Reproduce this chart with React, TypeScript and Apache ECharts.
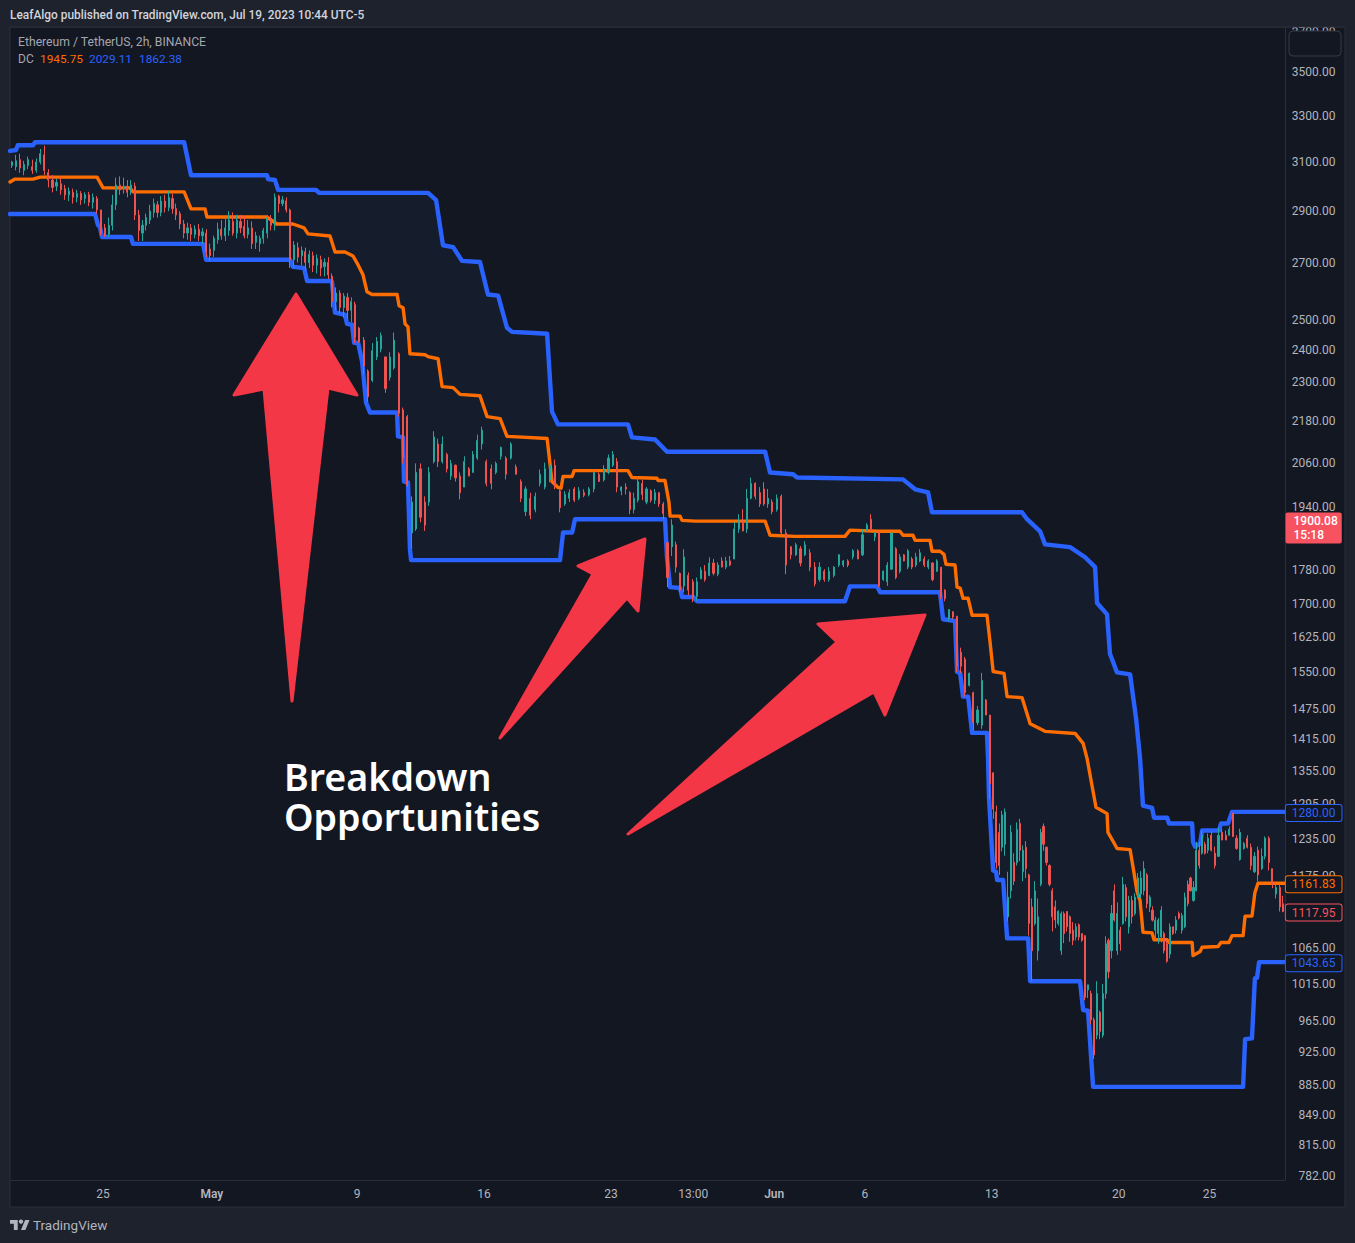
import React, { useEffect, useRef } from "react";
import * as echarts from "echarts";

type C = [number, number, number, number]; // open, close, low, high

// Time is in days after 25 April. One list per stretch between date ticks.
const aprilTail: C[] = [[3080,3095,3070,3100],[3075,3100,3060,3125],[3105,3070,3050,3130],[3060,3085,3040,3100],[3080,3105,3065,3118],[3075,3060,3045,3105],[3060,3095,3050,3110],[3095,3130,3085,3150],[3125,3060,3040,3165],[3050,3020,2990,3065],[3020,2990,2970,3040],[2995,3010,2975,3025],[3005,2980,2960,3030],[2985,2960,2940,3000],[2960,2975,2935,2990],[2970,2950,2925,2985],[2950,2965,2930,2980],[2965,2940,2920,2975],[2945,2960,2925,2970],[2960,2930,2915,2972],[2930,2950,2905,2965],[2945,2900,2885,2955],[2900,2810,2800,2900]];
const apr25ToMay1: C[] = [[2830,2800,2795,2845],[2805,2840,2795,2870],[2840,2920,2820,2960],[2920,3000,2900,3030],[3000,2980,2960,3035],[2985,2995,2965,3030],[2995,2970,2950,3020],[2975,3000,2960,3020],[2995,2880,2860,3010],[2880,2820,2780,2900],[2810,2840,2780,2860],[2840,2870,2820,2885],[2860,2895,2845,2920],[2890,2925,2870,2945],[2920,2890,2870,2935],[2890,2935,2875,2955],[2935,2910,2890,2960],[2910,2950,2895,2975],[2945,2905,2885,2965],[2905,2880,2860,2925],[2885,2845,2825,2895],[2845,2810,2790,2860],[2810,2830,2785,2850],[2830,2805,2780,2845],[2805,2825,2790,2840],[2825,2800,2780,2845],[2800,2815,2770,2830],[2810,2740,2720,2825],[2750,2725,2705,2770]];
const may1ToMay9: C[] = [[2745,2790,2720,2800],[2785,2825,2770,2850],[2825,2800,2785,2860],[2800,2830,2780,2870],[2820,2860,2800,2895],[2855,2810,2800,2890],[2810,2860,2790,2880],[2855,2830,2810,2880],[2835,2800,2790,2875],[2805,2830,2790,2860],[2830,2770,2750,2855],[2775,2800,2750,2815],[2770,2790,2740,2800],[2790,2820,2770,2830],[2810,2870,2790,2880],[2860,2840,2820,2880],[2840,2950,2820,2965],[2955,2925,2890,2960],[2925,2940,2915,2955],[2935,2900,2890,2950],[2900,2710,2680,2905],[2710,2765,2680,2780],[2755,2720,2700,2775],[2725,2745,2690,2760],[2740,2700,2670,2755],[2700,2730,2680,2745],[2725,2690,2665,2740],[2690,2715,2660,2730],[2710,2680,2650,2725],[2685,2700,2650,2715],[2700,2655,2640,2720],[2650,2560,2540,2660],[2560,2590,2530,2610],[2590,2540,2520,2600],[2540,2580,2505,2590],[2575,2530,2500,2590],[2530,2560,2490,2575],[2550,2440,2420,2560]];
const may9ToMay16: C[] = [[2470,2425,2420,2474],[2430,2345,2320,2440],[2330,2250,2235,2335],[2300,2395,2295,2420],[2375,2425,2365,2440],[2400,2445,2390,2455],[2375,2275,2262,2375],[2310,2375,2300,2390],[2340,2430,2334,2455],[2385,2200,2190,2390],[2210,2070,2055,2217],[2190,1995,1990,2195],[1870,1950,1830,1965],[1880,2030,1875,2055],[2040,1910,1897,2055],[1950,1890,1875,1965],[1950,2030,1940,2045],[2060,2130,2055,2147],[2110,2060,2045,2125],[2060,2110,2055,2132],[2080,2040,2030,2085],[2020,2055,2010,2065],[2050,2015,2005,2052],[2020,1975,1957,2030],[1990,2060,1990,2075],[2040,2020,2020,2045],[2030,2080,2030,2090],[2070,2120,2065,2137],[2110,2150,2094,2160]];
const may16ToMay23: C[] = [[2060,2000,1992,2066],[2040,2000,1984,2052],[2030,2055,2025,2060],[2075,2100,2066,2103],[2070,2025,2011,2075],[2070,2110,2066,2115],[2045,2025,2025,2052],[2005,1960,1950,2011],[1925,1985,1913,1992],[1960,1915,1905,1975],[1930,1965,1923,1975],[2000,2025,1992,2038],[1990,2040,1984,2057],[2010,2050,2003,2057],[2050,1995,1984,2066],[1980,1935,1923,1984],[1945,1970,1940,1979],[1960,1975,1950,1984],[1985,1955,1950,1990],[1960,1980,1955,1990],[1975,1968,1963,1984],[1970,1985,1965,1990],[1985,2030,1976,2038],[2025,2005,2005,2030],[2010,2040,2005,2050],[2030,2070,2025,2080]];
const may23ToJun1: C[] = [[2050,2080,2045,2090],[2060,1990,1976,2070],[1980,1990,1968,1992],[1990,1985,1970,2000],[1975,1930,1918,1979],[1930,1960,1920,1975],[1955,2005,1949,2020],[2000,1970,1955,2010],[1950,1985,1944,1990],[1980,1955,1949,1984],[1955,1975,1945,1985],[1975,1945,1937,1976],[1945,1920,1905,1950],[1845,1760,1737,1848],[1835,1890,1812,1905],[1840,1785,1772,1848],[1770,1730,1725,1772],[1740,1810,1725,1829],[1765,1730,1718,1772],[1750,1712,1702,1756],[1715,1750,1705,1760],[1757,1778,1756,1785],[1775,1755,1750,1790],[1765,1795,1763,1809],[1795,1770,1765,1805],[1768,1790,1763,1797],[1800,1785,1785,1809],[1785,1800,1780,1810],[1800,1790,1787,1812],[1805,1880,1804,1897],[1880,1900,1870,1918],[1895,1875,1874,1931],[1880,1960,1870,1985],[1960,2000,1957,2016],[2000,1965,1957,2003],[1975,1945,1937,1990],[1985,1945,1940,2003],[1945,1960,1935,1985],[1950,1925,1918,1957]];
const jun1ToJun6: C[] = [[1930,1960,1925,1970],[1965,1870,1861,1970],[1870,1790,1768,1879],[1835,1815,1804,1837],[1815,1840,1812,1845],[1830,1795,1787,1837],[1815,1840,1812,1849],[1820,1785,1775,1829],[1785,1745,1739,1797],[1755,1785,1750,1797],[1775,1755,1750,1780],[1755,1775,1750,1785],[1765,1785,1760,1787],[1790,1815,1785,1817],[1790,1800,1785,1802],[1800,1790,1785,1804],[1810,1825,1804,1829],[1825,1805,1804,1829],[1815,1865,1812,1879]];
const jun6ToJun13: C[] = [[1875,1890,1875,1895],[1905,1880,1875,1918],[1860,1870,1849,1871],[1870,1740,1737,1874],[1755,1775,1752,1777],[1750,1790,1740,1797],[1780,1870,1778,1874],[1830,1760,1756,1834],[1775,1810,1770,1817],[1815,1800,1799,1817],[1785,1825,1780,1829],[1805,1785,1780,1810],[1790,1810,1785,1820],[1800,1820,1797,1829],[1805,1790,1785,1811],[1785,1800,1780,1804],[1795,1755,1751,1797],[1775,1800,1773,1804],[1785,1715,1709,1785],[1730,1710,1704,1732],[1665,1685,1659,1686],[1680,1668,1663,1681],[1670,1560,1548,1670],[1590,1560,1546,1600],[1575,1505,1497,1580],[1520,1545,1518,1547],[1505,1445,1430,1507],[1445,1470,1440,1478],[1440,1530,1433,1546],[1490,1460,1460,1492],[1460,1330,1303,1460]];
const jun13ToJun20: C[] = [[1350,1285,1268,1350],[1280,1195,1185,1291],[1245,1190,1175,1260],[1220,1275,1213,1282],[1225,1280,1206,1286],[1110,1140,1104,1180],[1150,1245,1138,1257],[1195,1165,1159,1210],[1195,1250,1190,1262],[1260,1215,1197,1268],[1180,1215,1165,1223],[1220,1185,1170,1230],[1175,1100,1082,1177],[1125,1060,1017,1138],[1100,1150,1097,1165],[1060,1110,1046,1138],[1160,1245,1157,1251],[1255,1225,1214,1260],[1220,1195,1190,1221],[1190,1160,1157,1192],[1150,1110,1088,1154],[1125,1105,1093,1135],[1100,1118,1097,1120],[1060,1115,1054,1118],[1115,1085,1071,1118],[1118,1095,1088,1118],[1110,1085,1073,1112],[1090,1075,1068,1102],[1080,1095,1075,1100],[1098,1080,1075,1100],[1085,1075,1073,1085],[1082,995,991,1082],[1005,1012,994,1012],[1000,965,959,1004],[965,920,915,968],[945,1000,940,1017],[975,950,940,977],[945,1000,942,1013],[1000,1070,993,1081],[1075,1030,1021,1078],[1060,1115,1049,1128],[1150,1105,1103,1160],[1060,1115,1054,1132]];
const jun20ToJun25: C[] = [[1090,1070,1060,1095],[1100,1160,1098,1172],[1155,1110,1103,1160],[1095,1135,1085,1142],[1135,1110,1100,1142],[1115,1140,1112,1146],[1140,1170,1138,1178],[1145,1170,1138,1181],[1150,1185,1143,1197],[1175,1130,1123,1178],[1125,1140,1117,1143],[1120,1105,1103,1126],[1090,1105,1076,1110],[1085,1105,1070,1108],[1080,1120,1072,1126],[1085,1060,1056,1088],[1070,1045,1043,1075],[1055,1095,1049,1100],[1095,1085,1083,1095],[1090,1105,1085,1111],[1115,1108,1106,1118],[1090,1112,1085,1116],[1095,1140,1093,1147],[1160,1130,1126,1166],[1170,1150,1149,1172],[1135,1155,1133,1165],[1150,1215,1149,1229],[1215,1190,1185,1229],[1210,1240,1208,1248],[1225,1210,1208,1229],[1215,1235,1210,1243]];
const jun25ToEnd: C[] = [[1240,1215,1213,1246],[1210,1190,1185,1221],[1205,1240,1204,1253],[1245,1232,1232,1251],[1240,1232,1232,1248],[1240,1250,1240,1255],[1278,1238,1237,1278],[1235,1218,1216,1240],[1200,1245,1198,1251],[1218,1226,1216,1229],[1235,1220,1218,1240],[1220,1190,1183,1226],[1180,1205,1178,1212],[1215,1175,1165,1221],[1185,1205,1183,1218],[1205,1235,1200,1238],[1235,1195,1182,1238],[1185,1160,1154,1185],[1145,1155,1138,1160],[1155,1125,1118,1160],[1130,1117.95,1117,1142]];

const DAY_START = -5.13;
const DAY_END = 65.16;
const stretches: [number, number, C[]][] = [
  [DAY_START, 0, aprilTail], [0, 6, apr25ToMay1], [6, 14, may1ToMay9], [14, 21, may9ToMay16],
  [21, 28, may16ToMay23], [28, 37, may23ToJun1], [37, 42, jun1ToJun6], [42, 49, jun6ToJun13],
  [49, 56, jun13ToJun20], [56, 61, jun20ToJun25], [61, DAY_END, jun25ToEnd],
];

const dcUpper = [[-5.13,3142],[-4.8,3146],[-4.7,3166],[-3.86,3166],[-3.75,3179],[4.47,3179],[4.85,3040],[9.04,3040],[9.1,3024],[9.48,3020],[9.65,2980],[11.74,2980],[11.91,2968],[17.92,2968],[18.36,2939],[18.74,2764],[19.3,2757],[19.79,2706],[20.78,2702],[21.22,2585],[21.78,2581],[22.27,2471],[22.55,2457],[23.5,2454],[24.48,2451],[24.75,2205],[25.08,2167],[28.94,2167],[29.16,2129],[30.43,2123],[30.54,2117],[31.09,2088],[36.5,2088],[36.77,2030],[38.04,2025],[38.26,2016],[44.1,2011],[44.77,1984],[45.48,1976],[45.7,1923],[50.66,1923],[50.94,1905],[51.66,1874],[51.93,1841],[53.31,1834],[54.14,1809],[54.69,1785],[54.8,1700],[55.35,1674],[55.51,1587],[55.9,1547],[56.62,1543],[56.95,1453],[57.17,1376],[57.33,1291],[57.83,1287],[57.94,1270],[58.66,1270],[58.77,1260],[60.04,1260],[60.09,1229],[60.2,1221],[60.48,1226],[60.59,1248],[61.52,1248],[61.63,1260],[62.02,1260],[62.24,1280],[65.16,1280]];
const dcLower = [[-5.13,2884],[-0.44,2884],[-0.28,2841],[-0.17,2833],[-0.06,2795],[1.54,2795],[1.65,2769],[5.51,2769],[5.68,2710],[10.31,2710],[10.47,2684],[11.08,2680],[11.25,2633],[12.51,2633],[12.62,2630],[12.79,2522],[13.34,2515],[13.45,2484],[13.73,2481],[13.84,2421],[14.06,2421],[14.28,2360],[14.5,2232],[14.72,2202],[16.21,2202],[16.26,2132],[16.54,2129],[16.59,2005],[16.81,2003],[16.92,1829],[16.98,1802],[25.19,1802],[25.36,1871],[25.86,1871],[26.02,1905],[30.98,1905],[31.09,1809],[31.26,1737],[31.81,1735],[31.92,1714],[32.53,1714],[32.75,1704],[40.9,1704],[41.18,1739],[42.67,1739],[42.84,1725],[46.14,1725],[46.31,1663],[46.97,1659],[47.08,1548],[47.25,1546],[47.41,1497],[47.69,1497],[47.91,1425],[48.73,1425],[48.79,1376],[48.84,1307],[49.07,1182],[49.23,1180],[49.29,1167],[49.62,1167],[49.84,1078],[51,1078],[51.11,1017],[53.86,1017],[54.03,978],[54.3,977],[54.58,881],[62.85,881],[62.96,940],[63.34,941],[63.5,1021],[63.62,1022],[63.73,1043.65],[65.16,1043.65]];
const dcBasis = [[-5.13,3012],[-4.85,3024],[-3.86,3024],[-3.47,3032],[-0.33,3032],[0,2988],[1.49,2988],[1.65,2972],[4.47,2972],[4.85,2904],[5.62,2904],[5.73,2872],[9.04,2872],[9.59,2845],[10.47,2845],[11.08,2830],[11.3,2807],[12.51,2799],[12.79,2739],[13.34,2739],[13.78,2724],[14.06,2691],[14.33,2655],[14.55,2595],[14.83,2585],[16.21,2585],[16.32,2546],[16.54,2539],[16.65,2484],[16.81,2474],[16.92,2385],[17.75,2382],[17.92,2376],[18.47,2369],[18.69,2281],[19.3,2278],[19.68,2257],[20.78,2253],[21.17,2190],[21.89,2184],[22.27,2132],[24.48,2126],[24.75,2005],[25.08,1989],[25.25,1987],[25.36,2019],[25.86,2019],[25.97,2035],[28.94,2035],[29.16,2016],[30.54,2014],[30.6,2008],[30.98,2008],[31.2,1949],[31.26,1913],[31.81,1913],[31.92,1902],[32.64,1900],[36.5,1900],[36.77,1864],[38.15,1861],[40.9,1861],[41.18,1877],[42.72,1874],[43.93,1874],[44.1,1864],[44.65,1864],[44.77,1851],[45.59,1851],[45.7,1824],[46.14,1824],[46.36,1816],[46.47,1792],[46.97,1790],[47.08,1737],[47.25,1735],[47.41,1711],[47.69,1711],[47.91,1672],[48.73,1672],[48.9,1612],[49.07,1549],[49.67,1545],[49.84,1497],[50.66,1495],[51.11,1443],[51.93,1428],[53.59,1424],[54.03,1405],[54.25,1376],[54.58,1316],[54.74,1288],[55.35,1277],[55.4,1245],[55.68,1230],[55.9,1218],[56.62,1216],[56.78,1188],[57,1149],[57.17,1135],[57.33,1087],[57.83,1086],[57.94,1076],[58.66,1076],[58.77,1072],[60.04,1072],[60.09,1053],[60.48,1059],[60.59,1065],[61.47,1066],[61.63,1072],[62.07,1072],[62.24,1082],[62.85,1082],[62.96,1111],[63.34,1111],[63.5,1147],[63.67,1161.83],[65.16,1161.83]];

const priceTicks = [3700,3500,3300,3100,2900,2700,2500,2400,2300,2180,2060,1940,1780,1700,1625,1550,1475,1415,1355,1295,1235,1175,1065,1015,965,925,885,849,815,782];
const dateTickDays = [0, 6, 14, 21, 28, 32.54, 37, 42, 49, 56, 61];
const dateTickLabels = ["25", "May", "9", "16", "23", "13:00", "Jun", "6", "13", "20", "25"];
const priceTags: [number, string][] = [[1280, "#2962ff"], [1161.83, "#ff6d00"], [1117.95, "#f7525f"], [1043.65, "#2962ff"]];
const LAST_TAG = 1900.08;
const COUNTDOWN = "15:18";

const FONT = "Roboto, 'Noto Sans', sans-serif";
const RED = "#f43747";
const PAGE = "#1e222d";
const PANEL = "#131722";
const RULE = "#2a2e39";

const arrows = [
  [[296,294],[357,395],[328,388],[292,701],[264,389],[234,395]],
  [[645,539],[638,611],[627,598],[500,738],[593,574],[578,566]],
  [[925,615],[885,715],[874,692],[628,834],[837,642],[818,624]],
];

echarts.graphic.registerShape("tvMark", echarts.graphic.extendPath("M14 22H7V11H0V4h14v18zM28 22h-8l7.5-18h8L28 22z", {}));

export default function App() {
  const ref = useRef<HTMLDivElement>(null);
  useEffect(() => {
    document.body.style.margin = "0";
    const chart = echarts.init(ref.current!, null, { renderer: "svg" });
    const candles: number[][] = [];
    for (const [a, b, list] of stretches) {
      list.forEach((c, i) => candles.push([a + ((i + 0.5) * (b - a)) / list.length, ...c]));
    }
    const label = (x: number, y: number, text: string, fill: string, extra: object = {}) => ({
      type: "text", x, y, z: 61,
      style: { text, fill, fontFamily: FONT, fontSize: 12, verticalAlign: "middle", ...extra },
    });
    const hiddenDot = { color: "transparent", opacity: 1 };
    chart.setOption({
      animation: false,
      backgroundColor: PAGE,
      grid: { left: 10, top: 27, width: 1275, height: 1153, containLabel: false },
      xAxis: {
        type: "value", min: DAY_START, max: DAY_END,
        splitLine: { show: false },
        axisLine: { show: true, onZero: false, lineStyle: { color: RULE } },
        axisTick: { show: false },
        axisLabel: {
          customValues: dateTickDays, margin: 8, fontFamily: FONT, fontSize: 12, color: "#b2b5be",
          formatter: (v: number) => {
            const i = dateTickDays.findIndex((d) => Math.abs(d - v) < 0.01);
            const t = dateTickLabels[i] ?? "";
            return t === "May" || t === "Jun" ? `{b|${t}}` : t;
          },
          rich: { b: { fontWeight: 600, fontFamily: FONT, fontSize: 12, color: "#b2b5be" } },
        },
      },
      yAxis: {
        type: "log", logBase: 10, min: 776.3, max: 3718, position: "right",
        splitLine: { show: false },
        axisLine: { show: true, onZero: false, lineStyle: { color: RULE } },
        axisTick: { show: false },
        axisLabel: { show: false },
      },
      series: [
        {
          type: "custom", z: 1, silent: true, data: [[0, 2000]], encode: { x: 0, y: 1 },
          renderItem: (_p: unknown, api: any) => ({
            type: "polygon",
            shape: { points: [...dcUpper, ...[...dcLower].reverse()].map((d) => api.coord(d)) },
            style: { fill: "#151d2c" },
          }),
        },
        ...[[dcUpper, "#2962ff", 4.4], [dcLower, "#2962ff", 4.4], [dcBasis, "#ff6d00", 3.4]].map(([data, color, width]) => ({
          type: "line", z: 2, data, symbol: "none", silent: true,
          lineStyle: { color, width, join: "round", cap: "round" },
        })),
        {
          type: "candlestick", z: 3, data: candles, encode: { x: 0, y: [1, 2, 3, 4] }, barWidth: 1.6, silent: true,
          itemStyle: { color: "#26a69a", color0: "#ef5350", borderColor: "#26a69a", borderColor0: "#ef5350", borderWidth: 1 },
        },
        {
          type: "scatter", z: 4, silent: true, clip: false, symbolSize: 1, itemStyle: hiddenDot,
          data: priceTicks.map((p) => [DAY_END, p]),
          label: {
            show: true, position: "right", distance: 50, align: "right", offset: [0, 1], fontFamily: FONT, fontSize: 12, color: "#b2b5be",
            formatter: (p: any) => p.value[1].toFixed(2),
          },
        },
        ...priceTags.map(([price, color]) => ({
          type: "scatter", z: 5, silent: true, clip: false, symbolSize: 1, itemStyle: hiddenDot,
          data: [[DAY_END, price]],
          label: {
            show: true, position: "right", distance: 56, align: "right", offset: [0, 1], fontFamily: FONT, fontSize: 12, color,
            backgroundColor: PANEL, borderColor: color, borderWidth: 1, borderRadius: 2, padding: [2, 6, 2, 6],
            formatter: price.toFixed(2),
          },
        })),
        {
          type: "scatter", z: 5, silent: true, clip: false, symbolSize: 1, itemStyle: hiddenDot,
          data: [[DAY_END, LAST_TAG]],
          label: {
            show: true, position: "right", distance: 0, align: "left", offset: [0, 7], fontFamily: FONT, fontSize: 12,
            fontWeight: 500, lineHeight: 14, color: "#ffffff", backgroundColor: "#f7525f", borderRadius: 2, padding: [2, 4, 1, 8],
            formatter: `${LAST_TAG.toFixed(2)}\n${COUNTDOWN}`,
          },
        },
      ],
      graphic: {
        elements: [
          { type: "rect", z: 0, shape: { x: 10, y: 27, width: 1335, height: 1180 }, style: { fill: PANEL, stroke: RULE, lineWidth: 1 } },
          { type: "rect", z: 50, shape: { x: 0, y: 0, width: 1355, height: 26.5 }, style: { fill: PAGE } },
          { type: "line", z: 51, shape: { x1: 10, y1: 27, x2: 1345, y2: 27 }, style: { stroke: RULE, lineWidth: 1 } },
          { type: "rect", z: 51, shape: { x: 1289, y: 31, width: 52, height: 25, r: 4 }, style: { fill: PANEL, stroke: "#363a45", lineWidth: 1 } },
          ...arrows.map((points) => ({
            type: "polygon", z: 60, shape: { points },
            style: { fill: RED, stroke: RED, lineWidth: 3, lineJoin: "round" },
          })),
          label(284, 776, "Breakdown", "#ffffff", { fontFamily: "'Noto Sans', sans-serif", fontSize: 37.6, fontWeight: 600 }),
          label(284, 816, "Opportunities", "#ffffff", { fontFamily: "'Noto Sans', sans-serif", fontSize: 37.6, fontWeight: 600 }),
          label(10, 15, "LeafAlgo published on TradingView.com, Jul 19, 2023 10:44 UTC-5", "#d1d4dc", { fontWeight: 500, fontSize: 11.9 }),
          label(18, 42, "Ethereum / TetherUS, 2h, BINANCE", "#a3a6af", { fontSize: 12.2 }),
          label(18, 59, "DC", "#a3a6af"),
          label(40, 59, "1945.75", "#ff6d00", { fontSize: 11.8 }),
          label(89, 59, "2029.11", "#2962ff", { fontSize: 11.8 }),
          label(139, 59, "1862.38", "#2962ff", { fontSize: 11.8 }),
          { type: "tvMark", z: 61, x: 10, y: 1217.8, scaleX: 0.55, scaleY: 0.55, style: { fill: "#b2b5be" } },
          { type: "circle", z: 61, shape: { cx: 21, cy: 1221.6, r: 2.2 }, style: { fill: "#b2b5be" } },
          label(33, 1225, "TradingView", "#b2b5be", { fontSize: 13.5 }),
        ],
      },
    });
    return () => chart.dispose();
  }, []);
  return <div ref={ref} style={{ width: 1355, height: 1243 }} />;
}
